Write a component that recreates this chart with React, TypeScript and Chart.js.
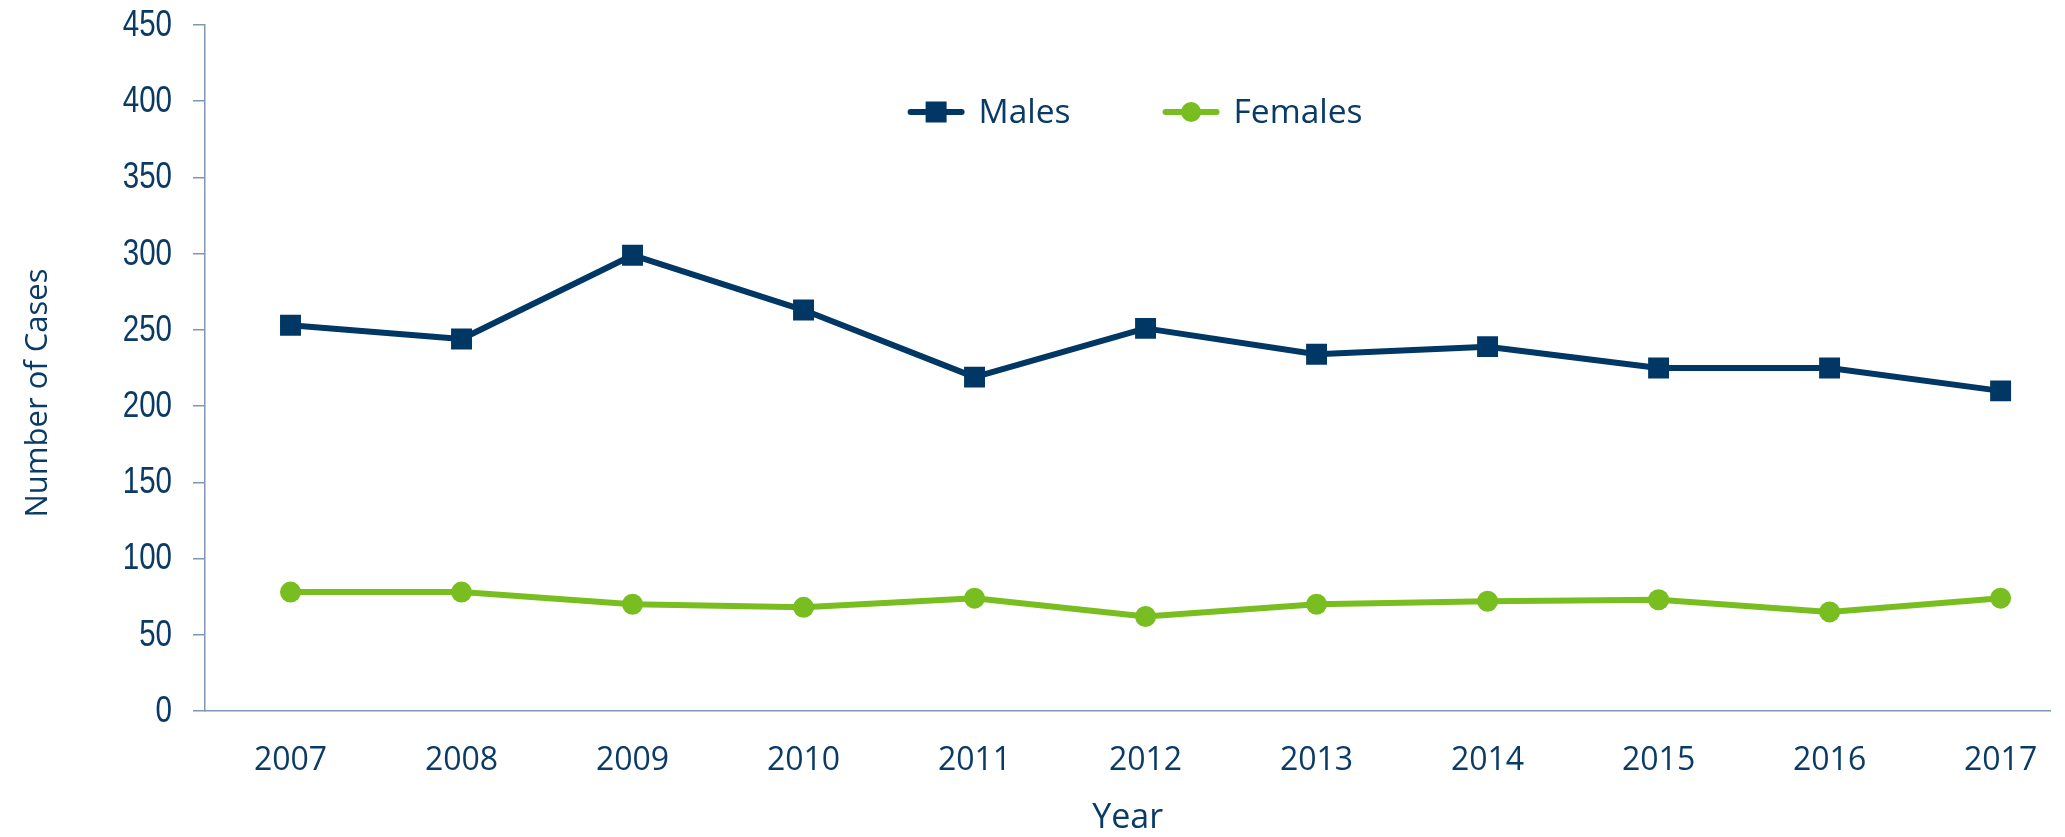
import React, { useEffect, useRef } from "react";
import { Chart, registerables } from "chart.js";

Chart.register(...registerables);

const years = [2007, 2008, 2009, 2010, 2011, 2012, 2013, 2014, 2015, 2016, 2017];
const males = [253, 244, 299, 263, 219, 251, 234, 239, 225, 225, 210];
const females = [78, 78, 70, 68, 74, 62, 70, 72, 73, 65, 74];
const seriesLabels = ["Males", "Females"];
const yTitle = "Number of Cases";
const xTitle = "Year";

const NAVY = "#003764";
const GREEN = "#78be20";
const TEXT = "#0a3a66";
const AXIS = "#7f97b3";
const OPEN = "'Open Sans', 'Noto Sans', sans-serif";
const ARIAL = "'Liberation Sans', Arial, sans-serif";

const W = 2065;
const H = 837;

const legendPlugin = {
  id: "lineLegend",
  afterDraw(chart: any) {
    const ctx = chart.ctx as CanvasRenderingContext2D;
    const area = chart.chartArea;
    const lineLen = 57;
    const gapText = 14;
    const gapItem = 92;
    const y = 112;
    const baseline = 123;
    ctx.save();
    ctx.font = `33.5px ${OPEN}`;
    let x = (area.left + area.right) / 2 - 220;
    chart.data.datasets.forEach((ds: any) => {
      const tw = ctx.measureText(ds.label).width;
      ctx.strokeStyle = ds.borderColor;
      ctx.lineWidth = 6;
      ctx.lineCap = "round";
      ctx.beginPath();
      ctx.moveTo(x + 3, y);
      ctx.lineTo(x + lineLen - 3, y);
      ctx.stroke();
      ctx.fillStyle = ds.pointBackgroundColor;
      const cx = x + lineLen / 2;
      if (ds.pointStyle === "rect") {
        ctx.fillRect(cx - 10.5, y - 10.5, 21, 21);
      } else {
        ctx.beginPath();
        ctx.arc(cx, y, 10, 0, Math.PI * 2);
        ctx.fill();
      }
      ctx.fillStyle = TEXT;
      ctx.textBaseline = "alphabetic";
      ctx.textAlign = "left";
      ctx.fillText(ds.label, x + lineLen + gapText, baseline);
      x += lineLen + gapText + tw + gapItem;
    });
    ctx.restore();
  },
};

// y title and narrow (horizontally condensed) y tick labels
const yAxisTextPlugin = {
  id: "yAxisText",
  afterDraw(chart: any) {
    const ctx = chart.ctx as CanvasRenderingContext2D;
    const ys = chart.scales.y;
    ctx.save();
    ctx.fillStyle = TEXT;
    ctx.font = `36px ${ARIAL}`;
    ctx.textAlign = "right";
    ctx.textBaseline = "middle";
    ys.ticks.forEach((t: any) => {
      const py = ys.getPixelForValue(t.value);
      ctx.save();
      ctx.translate(ys.right - 33, py + 1);
      ctx.scale(0.82, 1);
      ctx.fillText(String(t.value), 0, 0);
      ctx.restore();
    });
    ctx.translate(47, 393);
    ctx.rotate(-Math.PI / 2);
    ctx.font = `31px ${OPEN}`;
    ctx.textAlign = "center";
    ctx.textBaseline = "alphabetic";
    ctx.fillText(yTitle, 0, 0);
    ctx.restore();
  },
};

export default function App() {
  const ref = useRef<HTMLCanvasElement | null>(null);

  useEffect(() => {
    if (!ref.current) return;
    const chart = new Chart(ref.current, {
      type: "line",
      data: {
        datasets: [
          {
            label: seriesLabels[0],
            data: years.map((yr, i) => ({ x: yr, y: males[i] })),
            borderColor: NAVY,
            backgroundColor: NAVY,
            pointBackgroundColor: NAVY,
            pointBorderColor: NAVY,
            pointBorderWidth: 0,
            borderWidth: 6,
            pointStyle: "rect",
            pointRadius: 14.8,
            pointHoverRadius: 14.8,
            tension: 0,
            borderJoinStyle: "round",
          },
          {
            label: seriesLabels[1],
            data: years.map((yr, i) => ({ x: yr, y: females[i] })),
            borderColor: GREEN,
            backgroundColor: GREEN,
            pointBackgroundColor: GREEN,
            pointBorderColor: GREEN,
            pointBorderWidth: 0,
            borderWidth: 6,
            pointStyle: "circle",
            pointRadius: 10.5,
            pointHoverRadius: 10.5,
            tension: 0,
            borderJoinStyle: "round",
          },
        ],
      },
      options: {
        responsive: false,
        animation: false,
        layout: { padding: { top: 25, right: 0, bottom: 0, left: 0 } },
        plugins: {
          legend: { display: false },
          tooltip: { enabled: false },
        },
        scales: {
          x: {
            type: "linear",
            min: 2006.5,
            max: 2017.29,
            afterBuildTicks: (scale: any) => {
              scale.ticks = years.map((v) => ({ value: v }));
            },
            afterFit: (scale: any) => {
              scale.height = 126;
              scale.paddingLeft = 0;
              scale.paddingRight = 0;
            },
            grid: { display: false, drawTicks: false },
            border: { display: true, color: AXIS, width: 1.5 },
            ticks: {
              color: TEXT,
              font: { family: OPEN, size: 32 },
              padding: 31,
              maxRotation: 0,
              autoSkip: false,
              callback: (v: any) => String(v),
            },
            title: {
              display: true,
              text: xTitle,
              color: TEXT,
              font: { family: OPEN, size: 34 },
              padding: { top: 16, bottom: -2 },
            },
          },
          y: {
            type: "linear",
            min: 0,
            max: 450,
            afterFit: (scale: any) => {
              scale.width = 205;
              scale.paddingTop = 0;
              scale.paddingBottom = 0;
            },
            grid: {
              drawOnChartArea: false,
              drawTicks: true,
              tickLength: 12,
              color: AXIS,
              lineWidth: 1.5,
            },
            border: { display: true, color: AXIS, width: 1.5 },
            ticks: {
              stepSize: 50,
              display: false,
            },
          },
        },
      },
      plugins: [legendPlugin, yAxisTextPlugin],
    } as any);
    return () => chart.destroy();
  }, []);

  return (
    <div style={{ position: "absolute", left: 0, top: 0, width: W, height: H, background: "#fff" }}>
      <canvas ref={ref} width={W} height={H} style={{ display: "block" }} />
    </div>
  );
}
